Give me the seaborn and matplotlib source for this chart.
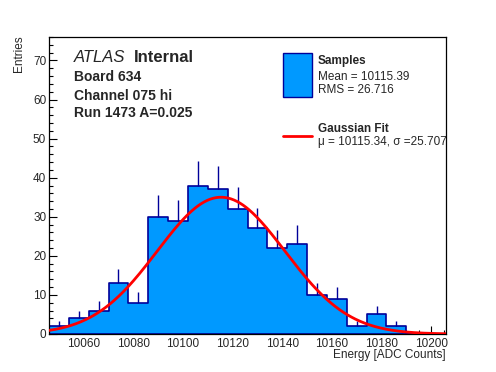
import numpy as np
import pandas as pd
import seaborn as sns
import matplotlib
matplotlib.use('Agg')
import matplotlib.pyplot as plt
from matplotlib.ticker import MultipleLocator
from matplotlib.patches import Rectangle
from matplotlib.lines import Line2D

# Histogram data (ADC counts)
bin_edges = [10046, 10054, 10062, 10070, 10078, 10086, 10094, 10102, 10110, 10118, 10126,
             10134, 10142, 10150, 10158, 10166, 10174, 10182, 10190, 10198, 10206]
bin_centers = [10050, 10058, 10066, 10074, 10082, 10090, 10098, 10106, 10114, 10122,
               10130, 10138, 10146, 10154, 10162, 10170, 10178, 10186, 10194, 10202]
counts = [2, 4, 6, 13, 8, 30, 29, 38, 37, 32, 27, 22, 23, 10, 9, 2, 5, 2, 0, 0]

# Fit parameters
fit_mu = 10115.34
fit_sigma = 25.707
fit_amp = 35.0

fill_col = '#0099ff'
edge_col = '#000099'

sns.set_style('ticks')
plt.rcParams['font.family'] = ['Liberation Sans', 'DejaVu Sans']

W, H = 496, 372
fig = plt.figure(figsize=(W / 100, H / 100), dpi=100)
ax = fig.add_axes([49 / W, 38 / H, 397 / W, 297 / H])

df = pd.DataFrame({'energy': bin_centers, 'n': counts})
sns.histplot(data=df, x='energy', weights='n', bins=bin_edges, element='step', fill=True,
             color=fill_col, edgecolor=edge_col, linewidth=1.2, alpha=1, ax=ax)

# Poisson error bars (upper half visible above the fill)
c = np.array(counts, dtype=float)
mask = c > 0
ax.vlines(np.array(bin_centers)[mask], c[mask], c[mask] + np.sqrt(c[mask]),
          color=edge_col, linewidth=1.0, zorder=3)

# Gaussian fit curve
xs = np.linspace(bin_edges[0], bin_edges[-1], 400)
fit = pd.DataFrame({'x': xs, 'y': fit_amp * np.exp(-0.5 * ((xs - fit_mu) / fit_sigma) ** 2)})
sns.lineplot(data=fit, x='x', y='y', color='red', linewidth=2, sort=False, errorbar=None, ax=ax, zorder=4)

# Axis configuration
ax.set_xlim(bin_edges[0], bin_edges[-1])
ax.set_ylim(0, 76)
ax.set_xticks(range(10060, 10201, 20))
ax.set_yticks(range(0, 71, 10))
ax.xaxis.set_minor_locator(MultipleLocator(5))
ax.yaxis.set_minor_locator(MultipleLocator(2))
ax.tick_params(which='both', direction='in', top=False, right=False, labelsize=8.5, color='black')
ax.tick_params(which='major', length=6, width=0.8)
ax.tick_params(which='minor', length=3, width=0.8)
ax.tick_params(axis='y', pad=2)
ax.tick_params(axis='x', pad=3)
for s in ax.spines.values():
    s.set_color('black')
    s.set_linewidth(0.9)
ax.set_xlabel('')
ax.set_ylabel('')

def px(x, y):
    return x / W, 1 - y / H

# Axis titles
fig.text(*px(446, 355), 'Energy [ADC Counts]', ha='right', va='center', fontsize=8.5)
fig.text(*px(19, 35), 'Entries', ha='center', va='top', rotation=90, fontsize=8.5)

# ATLAS labels
fig.text(*px(74, 57.3), 'ATLAS', ha='left', va='center', fontsize=12, style='italic')
fig.text(*px(134, 57.3), 'Internal', ha='left', va='center', fontsize=12, weight='bold')
fig.text(*px(74, 76.7), 'Board 634', ha='left', va='center', fontsize=10, weight='bold')
fig.text(*px(74, 96), 'Channel 075 hi', ha='left', va='center', fontsize=10, weight='bold')
fig.text(*px(74, 113.3), 'Run 1473 A=0.025', ha='left', va='center', fontsize=10, weight='bold')

# Legend (drawn by hand)
x0, y0 = px(283.3, 96.7)
x1, y1 = px(311.7, 53.3)
fig.patches.append(Rectangle((x0, y0), x1 - x0, y1 - y0, transform=fig.transFigure,
                             facecolor=fill_col, edgecolor=edge_col, linewidth=1.0))
lx0, ly = px(283.3, 135.7)
lx1, _ = px(311.7, 135.7)
fig.lines.append(Line2D([lx0, lx1], [ly, ly], transform=fig.transFigure, color='red', linewidth=2))
fig.text(*px(317.7, 61), 'Samples', ha='left', va='center', fontsize=8.5, weight='bold')
fig.text(*px(317.7, 76.7), 'Mean = 10115.39', ha='left', va='center', fontsize=8.5)
fig.text(*px(317.7, 90), 'RMS = 26.716', ha='left', va='center', fontsize=8.5)
fig.text(*px(317.7, 129.3), 'Gaussian Fit', ha='left', va='center', fontsize=8.5, weight='bold')
fig.text(*px(317.7, 141.7), 'μ = 10115.34, σ =25.707', ha='left', va='center', fontsize=8.5)

fig.savefig('out.png', dpi=100)
